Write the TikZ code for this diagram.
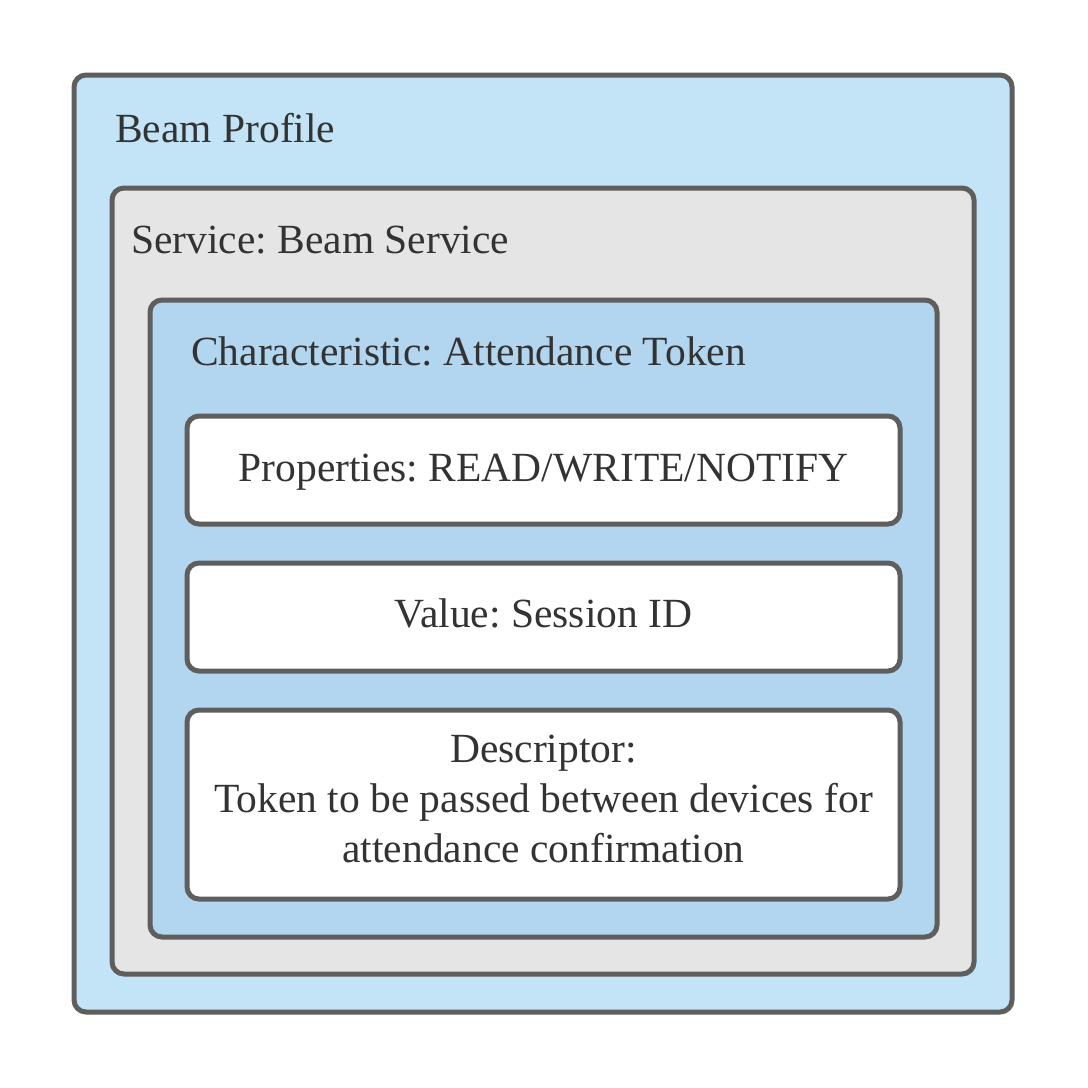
\documentclass[tikz,border=0pt]{standalone}
\usepackage{fontspec}
\setmainfont{Liberation Serif}
\frenchspacing
\definecolor{bordc}{HTML}{5E5E5E}
\definecolor{outerc}{HTML}{C3E4F6}
\definecolor{servc}{HTML}{E5E5E5}
\definecolor{charc}{HTML}{B2D6EF}
\definecolor{txtc}{HTML}{333333}
\begin{document}
\begin{tikzpicture}[x=1pt,y=-1pt,
  boxst/.style={draw=bordc,line width=5pt,rounded corners=12pt},
  lbl/.style={text=txtc,font=\fontsize{41.5}{50}\selectfont,inner sep=0pt,anchor=base west},
  clbl/.style={text=txtc,font=\fontsize{41.5}{50}\selectfont,inner sep=0pt,align=center}]
\useasboundingbox (0,0) rectangle (1088,1088);
\fill[white] (0,0) rectangle (1088,1088);
\draw[boxst,fill=outerc] (74,75) rectangle (1012,1012);
\node[lbl] (profile) at (115,142) {Beam Profile};
\draw[boxst,fill=servc] (112,188) rectangle (974,974);
\node[lbl] (service) at (131,253) {Service: Beam Service};
\draw[boxst,fill=charc] (150,300) rectangle (937,937);
\node[lbl] (charac) at (191,365) {Characteristic: Attendance Token};
\draw[boxst,fill=white] (187,416) rectangle (900,524);
\node[clbl,anchor=base] (props) at (543.5,481) {Properties: READ/WRITE/NOTIFY};
\draw[boxst,fill=white] (187,563) rectangle (900,671);
\node[clbl,anchor=base] (value) at (543.5,627) {Value: Session ID};
\draw[boxst,fill=white] (187,710) rectangle (900,899);
\node[clbl,anchor=base] (desc1) at (543.5,762) {Descriptor:};
\node[clbl,anchor=base] (desc2) at (543.5,812) {Token to be passed between devices for};
\node[clbl,anchor=base] (desc3) at (543.5,862) {attendance confirmation};
\end{tikzpicture}
\end{document}
